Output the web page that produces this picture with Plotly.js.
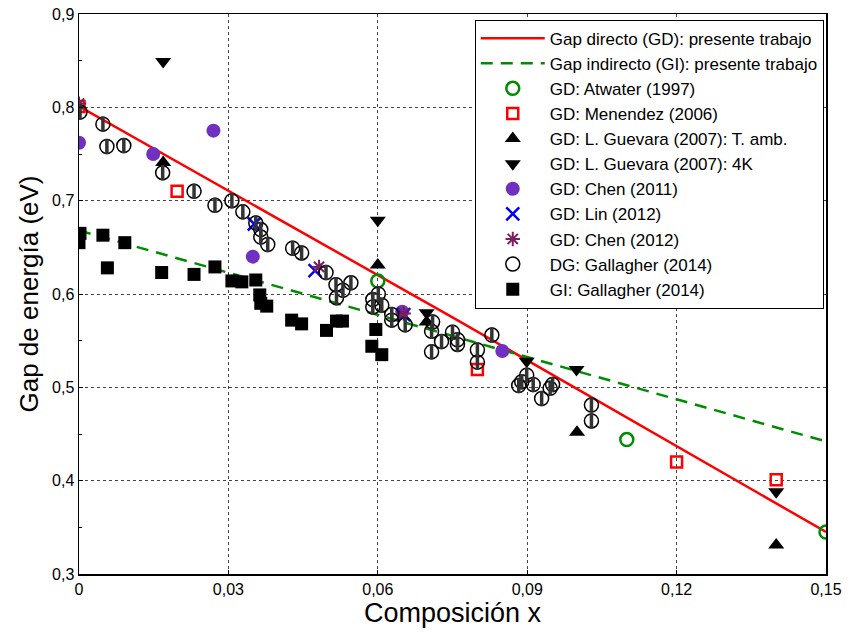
<!DOCTYPE html>
<html>
<head>
<meta charset="utf-8">
<script src="https://cdn.plot.ly/plotly-3.0.1.min.js"></script>
<style>html,body{margin:0;padding:0;background:#fff;}#chart{width:847px;height:633px;}</style>
</head>
<body>
<div id="chart"></div>
<script>
// Lines: present work
const gdX = [0, 0.075, 0.15];
const gdY = [0.801, 0.575, 0.345];
const giX = [0, 0.075, 0.15];
const giY = [0.668, 0.555, 0.442];

// Atwater (1997)
const atwX = [0.06, 0.11, 0.15];
const atwY = [0.614, 0.444, 0.345];
// Menendez (2006)
const menX = [0, 0.0197, 0.08, 0.12, 0.14];
const menY = [0.801, 0.710, 0.519, 0.420, 0.401];
// L. Guevara (2007) T. amb.
const guaX = [0.0169, 0.06, 0.0698, 0.1, 0.14];
const guaY = [0.741, 0.631, 0.570, 0.452, 0.331];
// L. Guevara (2007) 4K
const gukX = [0.0169, 0.06, 0.0698, 0.0899, 0.0999, 0.14];
const gukY = [0.849, 0.679, 0.580, 0.528, 0.519, 0.388];
// Chen (2011)
const ch11X = [0, 0.0149, 0.027, 0.0349, 0.0649, 0.085];
const ch11Y = [0.762, 0.750, 0.775, 0.640, 0.581, 0.539];
// Lin (2012)
const linX = [0.0352, 0.0474, 0.0652];
const linY = [0.675, 0.625, 0.578];
// Chen (2012)
const ch12X = [0, 0.0482, 0.0652];
const ch12Y = [0.804, 0.629, 0.579];
// Gallagher (2014) direct gap
const dgX = [0.0002, 0.0048, 0.0056, 0.0090, 0.0168, 0.0231, 0.0273, 0.0307, 0.0329, 0.0355, 0.0365, 0.0365, 0.0379,
  0.0429, 0.0447, 0.0496, 0.0516, 0.0530, 0.0517, 0.0546, 0.0601, 0.0590, 0.0608, 0.0590, 0.0628, 0.0628, 0.0655,
  0.0710, 0.0708, 0.0728, 0.0708, 0.0750, 0.0760, 0.0760, 0.0829, 0.0800, 0.0800, 0.0899, 0.0889, 0.0912, 0.0883,
  0.0929, 0.0946, 0.0951, 0.1029, 0.1029];
const dgY = [0.795, 0.782, 0.758, 0.759, 0.730, 0.710, 0.695, 0.700, 0.688, 0.676, 0.669, 0.661, 0.653,
  0.649, 0.644, 0.623, 0.610, 0.604, 0.596, 0.612, 0.600, 0.594, 0.588, 0.586, 0.578, 0.572, 0.567,
  0.570, 0.560, 0.549, 0.538, 0.559, 0.551, 0.546, 0.556, 0.540, 0.527, 0.513, 0.506, 0.503, 0.502,
  0.488, 0.499, 0.503, 0.481, 0.464];
// Gallagher (2014) indirect gap
const giGX = [0, 0.0002, 0.0048, 0.0057, 0.0092, 0.0166, 0.0231, 0.0273, 0.0307, 0.0327, 0.0355, 0.0363, 0.0365,
  0.0377, 0.0427, 0.0447, 0.0497, 0.0517, 0.0529, 0.0596, 0.0588, 0.0608];
const giGY = [0.655, 0.665, 0.663, 0.628, 0.655, 0.623, 0.621, 0.629, 0.614, 0.613, 0.615, 0.599, 0.590,
  0.587, 0.572, 0.568, 0.561, 0.571, 0.571, 0.562, 0.544, 0.535];

const xTicks = [0, 0.03, 0.06, 0.09, 0.12, 0.15];
const xTickText = ['0', '0,03', '0,06', '0,09', '0,12', '0,15'];
const yTicks = [0.3, 0.4, 0.5, 0.6, 0.7, 0.8, 0.9];
const yTickText = ['0,3', '0,4', '0,5', '0,6', '0,7', '0,8', '0,9'];

const traces = [
  {x: gdX, y: gdY, mode: 'lines', name: 'Gap directo (GD): presente trabajo',
   line: {color: '#ff0000', width: 2.5}},
  {x: giX, y: giY, mode: 'lines', name: 'Gap indirecto (GI): presente trabajo',
   line: {color: '#008c00', width: 2.5, dash: '12px,8px'}},
  {x: atwX, y: atwY, mode: 'markers', name: 'GD: Atwater (1997)',
   marker: {symbol: 'circle-open', size: 13, color: '#008c00', line: {width: 2.5}}},
  {x: menX, y: menY, mode: 'markers', name: 'GD: Menendez (2006)',
   marker: {symbol: 'square-open', size: 11, color: '#ff0000', line: {width: 2.5}}},
  {x: guaX, y: guaY, mode: 'markers', name: 'GD: L. Guevara (2007): T. amb.',
   marker: {symbol: 'triangle-up', size: 14, color: '#000000'}},
  {x: gukX, y: gukY, mode: 'markers', name: 'GD: L. Guevara (2007): 4K',
   marker: {symbol: 'triangle-down', size: 14, color: '#000000'}},
  {x: ch11X, y: ch11Y, mode: 'markers', name: 'GD: Chen (2011)',
   marker: {symbol: 'circle', size: 14, color: '#7030c0'}},
  {x: linX, y: linY, mode: 'markers', name: 'GD: Lin (2012)',
   marker: {symbol: 'x-thin-open', size: 13, color: '#0000ff', line: {width: 2.5, color: '#0000ff'}}},
  {x: ch12X, y: ch12Y, mode: 'markers', name: 'GD: Chen (2012)',
   marker: {symbol: 'asterisk-open', size: 12, color: '#7a1f5e', line: {width: 2, color: '#7a1f5e'}}},
  {x: dgX, y: dgY, mode: 'markers', name: 'DG: Gallagher (2014)', legendgroup: 'dg',
   marker: {symbol: 'circle-open', size: 14, color: '#000000', line: {width: 1.5}}},
  {x: giGX, y: giGY, mode: 'markers', name: 'GI: Gallagher (2014)',
   marker: {symbol: 'square', size: 13, color: '#000000'}},
  {x: dgX, y: dgY, mode: 'markers', name: 'DG: Gallagher (2014)', legendgroup: 'dg', showlegend: false,
   marker: {symbol: 'line-ns-open', size: 11, color: '#333333', line: {width: 3.5, color: '#333333'}}}
];

const layout = {
  width: 847, height: 633,
  margin: {l: 79, r: 21, t: 14, b: 59},
  paper_bgcolor: '#ffffff', plot_bgcolor: '#ffffff',
  font: {family: 'Liberation Sans, Arial, sans-serif', color: '#000000', size: 16},
  showlegend: true,
  legend: {x: 0.997, y: 0.99, xanchor: 'right', yanchor: 'top',
    bgcolor: '#ffffff', bordercolor: '#000000', borderwidth: 1,
    font: {size: 17, family: 'Liberation Sans, Arial, sans-serif'}, tracegroupgap: 0, itemwidth: 64},
  xaxis: {
    range: [0, 0.15], tickvals: xTicks, ticktext: xTickText,
    showline: true, mirror: true, linecolor: '#000000', linewidth: 1.5,
    showgrid: true, gridcolor: '#444444', griddash: 'dot', gridwidth: 1,
    zeroline: false, ticks: 'inside', ticklen: 4, tickcolor: '#000000',
    tickfont: {size: 16},
    title: {text: 'Composición x', font: {size: 27}, standoff: 6}
  },
  yaxis: {
    range: [0.3, 0.9], tickvals: yTicks, ticktext: yTickText,
    showline: true, mirror: true, linecolor: '#000000', linewidth: 1.5,
    showgrid: true, gridcolor: '#444444', griddash: 'dot', gridwidth: 1,
    zeroline: false, ticks: 'inside', ticklen: 4, tickcolor: '#000000',
    minor: {tickvals: [0.35, 0.45, 0.55, 0.65, 0.75, 0.85], ticks: 'inside', ticklen: 3, tickcolor: '#000000', showgrid: false},
    tickfont: {size: 16},
    title: {text: 'Gap de energía (eV)', font: {size: 26}, standoff: 6}
  }
};

Plotly.newPlot('chart', traces, layout, {displayModeBar: false, staticPlot: true});
</script>
</body>
</html>
